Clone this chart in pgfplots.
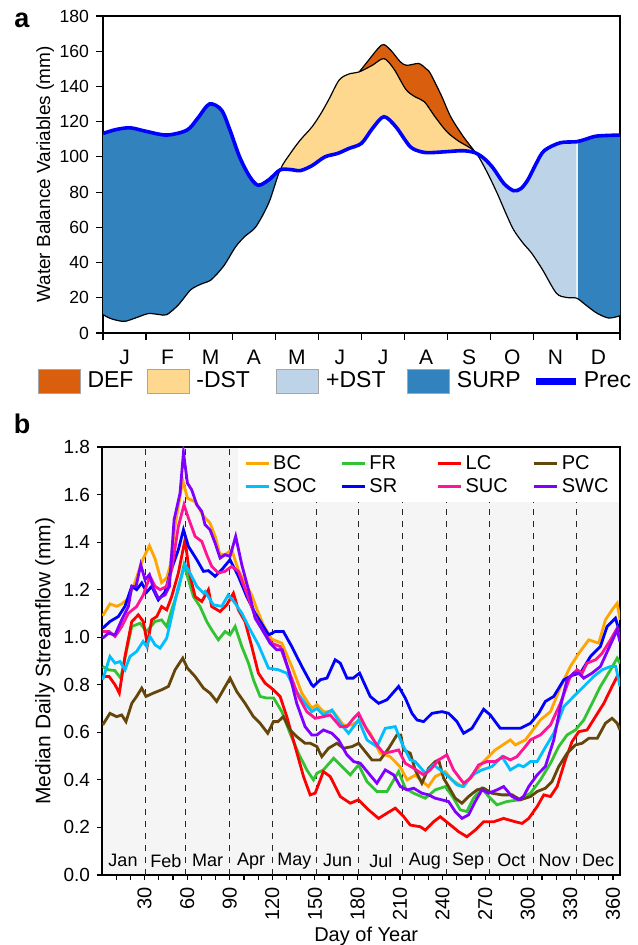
\documentclass[border=0pt]{standalone}
\usepackage{fontspec}
\setmainfont{Liberation Sans}
\usepackage{pgfplots}
\pgfplotsset{compat=1.18}
\usepackage{pgfplotstable}
\usepgfplotslibrary{fillbetween}

\definecolor{cDEF}{RGB}{217,95,14}
\definecolor{cNDST}{RGB}{253,216,142}
\definecolor{cPDST}{RGB}{189,212,232}
\definecolor{cSURP}{RGB}{49,130,189}
\definecolor{cBC}{RGB}{255,165,0}
\definecolor{cFR}{RGB}{50,195,50}
\definecolor{cLC}{RGB}{255,0,0}
\definecolor{cPC}{RGB}{100,70,10}
\definecolor{cSOC}{RGB}{0,191,255}
\definecolor{cSR}{RGB}{0,0,255}
\definecolor{cSUC}{RGB}{255,20,147}
\definecolor{cSWC}{RGB}{127,0,255}

% ---------- panel a ----------
\pgfplotstableread{
m v
0 113.3
0.3 115.5
0.63 116.5
1.0 114.5
1.48 112.4
1.95 115.2
2.2 122
2.47 130
2.75 126.6
2.95 115
3.17 100
3.4 89
3.6 83.9
3.85 87
4.11 92.6
4.35 92.8
4.58 92.2
4.85 95
5.15 100
5.45 102
5.71 104.8
6.0 107.7
6.25 116
6.52 122.8
6.8 117
7.13 105.8
7.4 102.8
7.6 102.4
8.0 103
8.35 103.5
8.63 102.4
8.85 99
9.06 93.5
9.3 85
9.53 80.8
9.7 82
9.86 86.9
10.05 96
10.24 103.5
10.61 108
10.99 108.6
11.2 110
11.46 111.8
12 112.4
}\precT

\pgfplotstableread{
m v
0 10.4
0.2 8
0.49 6.6
0.75 8.5
1.05 11
1.3 10.5
1.48 10.4
1.75 16
2.04 24.6
2.3 28
2.51 30.2
2.8 38
3.08 49
3.3 55
3.55 60.4
3.85 74
4.11 92.6
4.35 102
4.58 109.6
4.85 117
5.06 124.7
5.25 133
5.48 143.6
5.7 147
5.95 148.3
6.25 152
6.52 155.8
6.75 150
7.03 138.3
7.25 134
7.46 131.3
7.7 123
7.98 114.3
8.25 109
8.63 103
8.9 92
9.15 79.3
9.35 68
9.53 58.6
9.75 51
9.95 45.3
10.2 36
10.52 22.7
10.75 20.2
10.99 19.8
11.2 16
11.46 11.3
11.74 8.5
12 9.8
}\lowT

% PET: visible part
\pgfplotstableread{
m v
5.95 148.3
6.2 156
6.4 162
6.52 163.8
6.7 160
6.9 154
7.05 152
7.33 153
7.5 150
7.6 147.3
7.85 135
8.07 122.8
8.35 112
8.63 103
}\petT

% PET joined to the lower line on both sides (for the fill)
\pgfplotstableread{
m v
5.06 124.7
5.25 133
5.48 143.6
5.7 147
5.95 148.3
6.2 156
6.4 162
6.52 163.8
6.7 160
6.9 154
7.05 152
7.33 153
7.5 150
7.6 147.3
7.85 135
8.07 122.8
8.35 112
8.63 103
8.9 92
9.15 79.3
9.35 68
}\petFullT

% ---------- panel b ----------
\pgfplotstableread{
d v
0.5 1.09
5.6 1.14
10.3 1.13
13.9 1.14
18 1.16
22 1.21
26 1.28
29 1.33
33.4 1.385
37.4 1.33
42 1.23
45.6 1.25
48 1.30
51.5 1.47
56.9 1.66
60.2 1.585
65.6 1.57
71.5 1.51
76.1 1.48
80 1.42
83 1.35
86.7 1.347
91.4 1.368
96 1.284
100.5 1.23
105.5 1.178
109 1.12
113.7 1.052
119.6 0.992
126.7 0.975
133.7 0.877
140.8 0.765
147.8 0.701
151.4 0.716
156 0.687
163 0.687
170 0.631
176 0.631
182 0.652
189 0.596
196 0.512
203 0.498
210 0.456
215 0.40
220.7 0.42
230 0.372
234.8 0.414
241.9 0.435
246.6 0.40
253.6 0.372
260.7 0.414
267.7 0.47
277.1 0.526
287.7 0.568
291.2 0.547
298.3 0.568
301.9 0.596
308.9 0.652
316 0.687
323 0.79
330 0.877
336 0.933
343 0.989
350 0.975
354.7 1.073
359.4 1.115
363 1.143
365 1.073
}\BC

\pgfplotstableread{
d v
0.5 0.877
4.5 0.863
9 0.86
13.2 0.828
17.4 0.947
21 1.045
26.8 1.059
31.5 1.024
37.4 1.066
42 1.073
45.6 1.045
49.1 1.115
53.8 1.2
57.8 1.305
60.9 1.242
64.4 1.171
69.1 1.129
73.8 1.066
77.3 1.031
82 0.989
86.7 1.024
90.2 1.01
93.8 1.045
98.5 0.961
103.2 0.891
106.7 0.821
111.4 0.751
116.1 0.744
121 0.744
126.7 0.687
132.5 0.596
138.4 0.512
144.3 0.442
149 0.40
151.4 0.428
156 0.442
163.2 0.491
169 0.456
174.9 0.421
180.8 0.463
186.7 0.393
193.7 0.351
200.8 0.351
209 0.435
213.7 0.365
219.6 0.344
227.8 0.323
234.8 0.358
241.9 0.372
247.7 0.323
252.4 0.274
257.1 0.267
261.8 0.323
267.7 0.365
272.4 0.33
278.3 0.295
285.3 0.309
293.6 0.316
301.9 0.344
308.9 0.40
316 0.47
321.8 0.54
327.7 0.589
333.6 0.61
339.5 0.652
345.3 0.722
351.2 0.793
358.3 0.863
363 0.912
365 0.89
}\FR

\pgfplotstableread{
d v
0.5 0.835
5 0.835
9.2 0.80
12.2 0.765
16.2 0.919
21 1.066
25.6 1.094
29.1 1.066
32 0.968
35 1.073
38.6 1.087
42 1.129
45.6 1.115
49.1 1.171
53.8 1.27
58.5 1.41
61.6 1.27
65.6 1.171
70.3 1.15
75 1.2
77.3 1.129
83.2 1.108
87.9 1.136
92.6 1.185
96.1 1.115
100.8 1.066
105.5 0.961
110.2 0.849
114.9 0.807
120.8 0.779
125.5 0.751
130.2 0.666
136.1 0.54
142 0.414
146.7 0.337
150.2 0.344
156 0.435
160.8 0.414
167.9 0.33
174.9 0.302
180.8 0.316
187.8 0.274
194.9 0.238
200.8 0.26
206.6 0.281
212.5 0.246
217.2 0.21
224.3 0.203
227.8 0.189
233.6 0.224
238.3 0.245
244.2 0.217
251.3 0.182
257.1 0.161
263 0.189
268.9 0.224
276 0.224
283 0.238
291.2 0.224
296 0.217
300.7 0.238
306.6 0.288
311.3 0.337
316 0.33
320.7 0.372
326.5 0.484
331.2 0.561
336 0.603
341.8 0.61
347.7 0.666
353.6 0.722
359.4 0.793
363 0.835
365 0.82
}\LC

\pgfplotstableread{
d v
0.5 0.631
5.6 0.68
10.3 0.666
13.9 0.673
16.9 0.645
21 0.722
24.4 0.751
28 0.786
31 0.751
36.2 0.765
42 0.779
46.8 0.793
51.5 0.863
56.9 0.912
60.2 0.87
65.6 0.835
71.5 0.786
76.1 0.765
80.8 0.73
85.5 0.779
90.2 0.828
94.9 0.772
100.8 0.722
106.7 0.666
111.4 0.638
116.8 0.596
120.8 0.645
124 0.645
127.8 0.666
132.5 0.61
137.2 0.582
143.1 0.554
146.7 0.554
151.4 0.54
154.9 0.498
159.6 0.533
165.5 0.554
170.2 0.533
176.1 0.54
180.8 0.554
185.5 0.519
190.2 0.484
196 0.484
202 0.533
207.8 0.589
210.5 0.589
212.5 0.526
217.2 0.512
220.7 0.442
225.4 0.386
230.1 0.449
234.8 0.477
237.2 0.484
240.7 0.407
244.2 0.372
248.9 0.323
253.6 0.302
258.3 0.33
264.2 0.358
268.9 0.365
274.8 0.344
281.8 0.337
289 0.337
294.8 0.316
301.9 0.33
306.6 0.351
312.4 0.365
317.1 0.393
321.8 0.456
327.7 0.512
333.6 0.547
338.3 0.554
343 0.575
349 0.575
354.7 0.638
359.4 0.659
363 0.638
365 0.61
}\PC

\pgfplotstableread{
d v
0.5 0.821
5.6 0.919
9.2 0.891
12.7 0.898
16.2 0.863
19.7 0.919
24.4 0.94
29 0.982
31.5 0.961
33.8 1.003
37.4 0.968
40.9 0.954
45.6 0.996
49.1 1.087
53.8 1.214
58.5 1.305
62 1.27
66.8 1.214
71.5 1.185
72.6 1.192
78.5 1.136
84.4 1.13
89 1.178
93.8 1.143
98.5 1.101
103.2 1.045
110.2 0.968
117.3 0.87
124.3 0.863
130.2 0.849
136.1 0.779
143.1 0.722
147.8 0.687
151.4 0.70
156 0.673
162 0.694
167.9 0.638
173.7 0.596
180.8 0.652
186.7 0.568
193.7 0.54
199.6 0.617
206.6 0.624
211.3 0.554
217.2 0.484
220.7 0.477
227.8 0.428
233.6 0.463
238.3 0.442
244.2 0.414
250.1 0.379
254.8 0.372
260.7 0.42
267.7 0.442
274.8 0.456
281.8 0.498
287.7 0.442
293.6 0.463
297 0.455
301.9 0.477
306.6 0.477
311.3 0.526
318.3 0.596
325.4 0.708
332.4 0.751
339.5 0.793
346.5 0.835
352.4 0.863
358.3 0.877
362 0.877
365 0.793
}\SOC

\pgfplotstableread{
d v
0.5 1.038
5.6 1.066
11.5 1.087
16.2 1.13
21 1.214
24.4 1.2
28 1.228
31.5 1.19
35 1.214
39.7 1.157
44.4 1.19
48 1.27
53.8 1.368
57.4 1.452
60.9 1.382
66.8 1.326
71.5 1.277
75 1.28
79.7 1.256
84.4 1.284
90.2 1.326
96.1 1.256
102 1.171
107.9 1.101
113.7 1.045
117.3 1.01
122 1.024
127.8 1.024
133.7 0.961
140.8 0.877
147.8 0.80
149 0.793
153.8 0.821
158.5 0.828
164.3 0.905
167.9 0.891
172.6 0.828
177 0.828
181.5 0.849
189 0.751
194.9 0.722
200.8 0.737
209 0.793
213.7 0.744
218.4 0.68
222 0.652
226.6 0.645
232.5 0.68
239.5 0.687
244.2 0.68
250.1 0.645
254.8 0.596
260.7 0.617
268.9 0.697
273.6 0.673
280.6 0.617
288 0.617
294.8 0.617
301.9 0.638
307.7 0.68
312.4 0.73
318.3 0.751
325.4 0.821
332.4 0.842
337.1 0.849
344.2 0.919
351.2 0.961
355.9 1.045
361.8 1.08
365 1.017
}\SR

\pgfplotstableread{
d v
0.5 1.024
5 1.024
9.2 1.003
13.9 1.045
18.6 1.101
24.4 1.129
29.1 1.178
33.8 1.256
37.4 1.214
40.9 1.2
45.6 1.214
49.1 1.284
53.8 1.466
57.8 1.557
60.9 1.501
65.6 1.424
70.3 1.403
73.8 1.347
77.3 1.298
82 1.27
86.7 1.277
91.4 1.298
96.1 1.277
102 1.185
107.9 1.087
113.7 1.024
119.6 0.975
125.5 0.961
131.4 0.863
138.4 0.751
144.3 0.687
150.2 0.659
156 0.666
160.8 0.673
167.9 0.624
172.6 0.624
177.3 0.659
180.8 0.68
186.7 0.61
193.7 0.547
198.4 0.512
204.3 0.519
209 0.526
213.7 0.47
219.6 0.449
226.6 0.421
231.3 0.442
237.2 0.484
243 0.505
247.7 0.442
254.8 0.386
259.5 0.407
265.4 0.463
271.2 0.477
277 0.477
283 0.498
287.7 0.484
292.4 0.498
298.3 0.54
301.9 0.568
308.9 0.589
316 0.631
323 0.722
330 0.835
334.8 0.863
338.3 0.849
341.8 0.891
347.7 0.905
352.4 0.933
358.3 0.989
363 1.038
365 0.989
}\SUC

\pgfplotstableread{
d v
0.5 0.996
4.5 1.017
9.2 1.01
13.9 1.073
18.6 1.129
21 1.214
24 1.214
27.3 1.305
30.3 1.242
33.4 1.263
36.2 1.207
39.7 1.164
44.4 1.178
47.5 1.214
50.8 1.494
55 1.606
57.4 1.777
60.2 1.648
63.2 1.62
66.8 1.557
70.3 1.529
72.6 1.473
76.1 1.452
79.7 1.396
83.2 1.333
86.7 1.347
90.2 1.34
94.2 1.424
98.5 1.305
103.2 1.2
107.9 1.08
113.7 1.024
118.4 0.975
123.1 0.947
127 0.947
131.4 0.863
137.2 0.722
143.1 0.624
147.8 0.589
151.4 0.589
156 0.61
162 0.596
166.7 0.568
172.6 0.505
177.3 0.477
182 0.47
187.8 0.428
193.7 0.386
199.6 0.442
205.5 0.421
210.2 0.372
214.9 0.358
219.6 0.365
225.4 0.344
230.1 0.337
234.8 0.323
239.5 0.316
244.2 0.309
248.9 0.267
253.6 0.238
258.3 0.253
263 0.309
267.7 0.358
272.4 0.344
278.3 0.358
283 0.372
288.9 0.33
293.6 0.316
297 0.33
300.7 0.372
306.6 0.421
312.4 0.456
318.3 0.568
323 0.708
327.7 0.821
332.4 0.849
336 0.849
339.5 0.828
345.3 0.849
351.2 0.877
357.1 0.954
363 1.031
365 0.98
}\SWC

\pgfplotsset{/pgf/number format/assume math mode=true}

\begin{document}
\begin{tikzpicture}

% ================= panel a =================
\begin{axis}[
  at={(0pt,0pt)}, anchor=south west, scale only axis,
  width=258.5pt, height=158.5pt,
  xmin=0, xmax=12, ymin=0, ymax=180,
  xtick={0,1,...,12}, xticklabels={},
  extra x ticks={0.5,1.5,2.5,3.5,4.5,5.5,6.5,7.5,8.5,9.5,10.5,11.5},
  extra x tick labels={J,F,M,A,M,J,J,A,S,O,N,D},
  extra x tick style={major tick length=0pt, xticklabel style={font=\fontsize{10.5}{12}\selectfont, yshift=-5pt}},
  ytick={0,20,40,60,80,100,120,140,160,180},
  tick align=outside, xtick pos=lower, ytick pos=left,
  major tick length=3.5pt,
  yticklabel style={font=\fontsize{8.8}{10}\selectfont},
  ylabel={Water Balance Variables (mm)},
  every axis y label/.style={at={(axis description cs:-0.112,0.5)}, rotate=90, anchor=center, font=\fontsize{9.5}{11}\selectfont},
  axis line style={line width=0.75pt},
  every tick/.style={black, line width=0.6pt},
  legend columns=5,
  legend style={at={(-0.127,-0.112)}, anchor=north west, draw=none, fill=none,
    inner sep=0pt, font=\fontsize{11.5}{12}\selectfont,
    nodes={inner sep=1.5pt},
    column sep=0pt},
  extra description/.code={\node[font=\bfseries\fontsize{13.5}{15}\selectfont] at (-0.157,0.987) {a};},
]
\addlegendimage{legend image code/.code={\draw[fill=cDEF, draw=gray!70] (0pt,-6pt) rectangle (21pt,6pt); \path (23pt,0pt);}}
\addlegendentry{\makebox[28pt][l]{DEF}}
\addlegendimage{legend image code/.code={\draw[fill=cNDST, draw=gray!70] (0pt,-6pt) rectangle (21pt,6pt); \path (23pt,0pt);}}
\addlegendentry{\makebox[38.5pt][l]{-DST}}
\addlegendimage{legend image code/.code={\draw[fill=cPDST, draw=gray!70] (0pt,-6pt) rectangle (21pt,6pt); \path (23pt,0pt);}}
\addlegendentry{\makebox[39pt][l]{+DST}}
\addlegendimage{legend image code/.code={\draw[fill=cSURP, draw=gray!70] (0pt,-6pt) rectangle (21pt,6pt); \path (23pt,0pt);}}
\addlegendentry{\makebox[36.5pt][l]{SURP}}
\addlegendimage{legend image code/.code={\draw[blue, line width=3.5pt] (0pt,0pt) -- (20pt,0pt); \path (22pt,0pt);}}
\addlegendentry{Prec}

\addplot[name path=prec, draw=none, smooth, forget plot] table {\precT};
\addplot[name path=low, draw=none, smooth, forget plot] table {\lowT};
\addplot[name path=pet, draw=none, smooth, forget plot] table {\petFullT};

\addplot[fill=cSURP, draw=none, forget plot] fill between[of=low and prec, soft clip={domain=0:4.11}];
\addplot[fill=cSURP, draw=none, forget plot] fill between[of=low and prec, soft clip={domain=11.02:12}];
\addplot[fill=cPDST, draw=none, forget plot] fill between[of=low and prec, soft clip={domain=8.63:10.99}];
\addplot[fill=cNDST, draw=none, forget plot] fill between[of=prec and low, soft clip={domain=4.11:8.63}];
\addplot[fill=cDEF, draw=none, forget plot] fill between[of=low and pet, soft clip={domain=5.95:8.63}];

\addplot[black, line width=0.6pt, smooth, forget plot] table {\lowT};
\addplot[black, line width=0.6pt, smooth, forget plot] table {\petT};
\addplot[cSR, line width=1.8pt, smooth, forget plot] table {\precT};
\end{axis}

% ================= panel b =================
\begin{axis}[
  at={(-0.5pt,-271pt)}, anchor=south west, scale only axis,
  width=259pt, height=214pt,
  xmin=0, xmax=365, ymin=0, ymax=1.8,
  xtick={30,60,90,120,150,180,210,240,270,300,330,360},
  minor xtick={10,20,40,50,70,80,100,110,130,140,160,170,190,200,220,230,250,260,280,290,310,320,340,350},
  ytick={0,0.2,0.4,0.6,0.8,1.0,1.2,1.4,1.6,1.8},
  y tick label style={/pgf/number format/fixed, /pgf/number format/fixed zerofill, /pgf/number format/precision=1, font=\fontsize{9.5}{10}\selectfont},
  x tick label style={rotate=90, anchor=east, font=\fontsize{10}{11}\selectfont},
  tick align=outside, xtick pos=lower, ytick pos=left,
  major tick length=2.5pt, minor tick length=2.5pt,
  extra x ticks={31,59,90,120,151,181,212,243,273,304,334},
  extra x tick labels={},
  extra x tick style={grid=major, major tick length=0pt},
  major grid style={black!85, dashed, line width=0.5pt},
  axis background/.style={fill=gray!8},
  axis line style={line width=0.75pt},
  every tick/.style={black, line width=0.6pt},
  xlabel={Day of Year},
  every axis x label/.style={at={(axis description cs:0.51,-0.1425)}, anchor=center, font=\fontsize{10}{12}\selectfont},
  ylabel={Median Daily Streamflow (mm)},
  every axis y label/.style={at={(axis description cs:-0.11,0.5)}, rotate=90, anchor=center, font=\fontsize{10.5}{12}\selectfont},
  legend columns=4,
  legend image code/.code={\draw[#1, line width=1.6pt] (0pt,0pt) -- (11.5pt,0pt);},
  legend style={at={(0.9985,0.998)}, anchor=north east, fill=white, draw=none,
    inner xsep=3pt, inner ysep=2pt, font=\fontsize{10}{11}\selectfont,
    nodes={inner sep=1.5pt},
    /tikz/every even column/.append style={column sep=8pt}},
  extra description/.code={\node[font=\bfseries\fontsize{13.5}{15}\selectfont] at (-0.154,1.054) {b};},
  every axis plot/.append style={line width=1.4pt},
]
\addplot[cBC] table {\BC};   \addlegendentry{\makebox[24pt][l]{BC}}
\addplot[cFR] table {\FR};   \addlegendentry{\makebox[24pt][l]{FR}}
\addplot[cLC] table {\LC};   \addlegendentry{\makebox[24pt][l]{LC}}
\addplot[cPC] table {\PC};   \addlegendentry{\makebox[24pt][l]{PC}}
\addplot[cSOC] table {\SOC}; \addlegendentry{\makebox[24pt][l]{SOC}}
\addplot[cSR] table {\SR};   \addlegendentry{\makebox[24pt][l]{SR}}
\addplot[cSUC] table {\SUC}; \addlegendentry{\makebox[24pt][l]{SUC}}
\addplot[cSWC] table {\SWC}; \addlegendentry{\makebox[24pt][l]{SWC}}

\node[font=\fontsize{9}{10}\selectfont] at (axis cs:14.8,0.06) {Jan};
\node[font=\fontsize{9}{10}\selectfont] at (axis cs:45,0.06) {Feb};
\node[font=\fontsize{9}{10}\selectfont] at (axis cs:74.5,0.06) {Mar};
\node[font=\fontsize{9}{10}\selectfont] at (axis cs:105,0.06) {Apr};
\node[font=\fontsize{9}{10}\selectfont] at (axis cs:135.5,0.06) {May};
\node[font=\fontsize{9}{10}\selectfont] at (axis cs:166,0.06) {Jun};
\node[font=\fontsize{9}{10}\selectfont] at (axis cs:196.5,0.06) {Jul};
\node[font=\fontsize{9}{10}\selectfont] at (axis cs:227.5,0.06) {Aug};
\node[font=\fontsize{9}{10}\selectfont] at (axis cs:258,0.06) {Sep};
\node[font=\fontsize{9}{10}\selectfont] at (axis cs:288.5,0.06) {Oct};
\node[font=\fontsize{9}{10}\selectfont] at (axis cs:319,0.06) {Nov};
\node[font=\fontsize{9}{10}\selectfont] at (axis cs:349.5,0.06) {Dec};
\end{axis}
\pgfresetboundingbox
\path (-51.5pt,-306pt) rectangle (267pt,166.5pt);
\end{tikzpicture}
\end{document}
